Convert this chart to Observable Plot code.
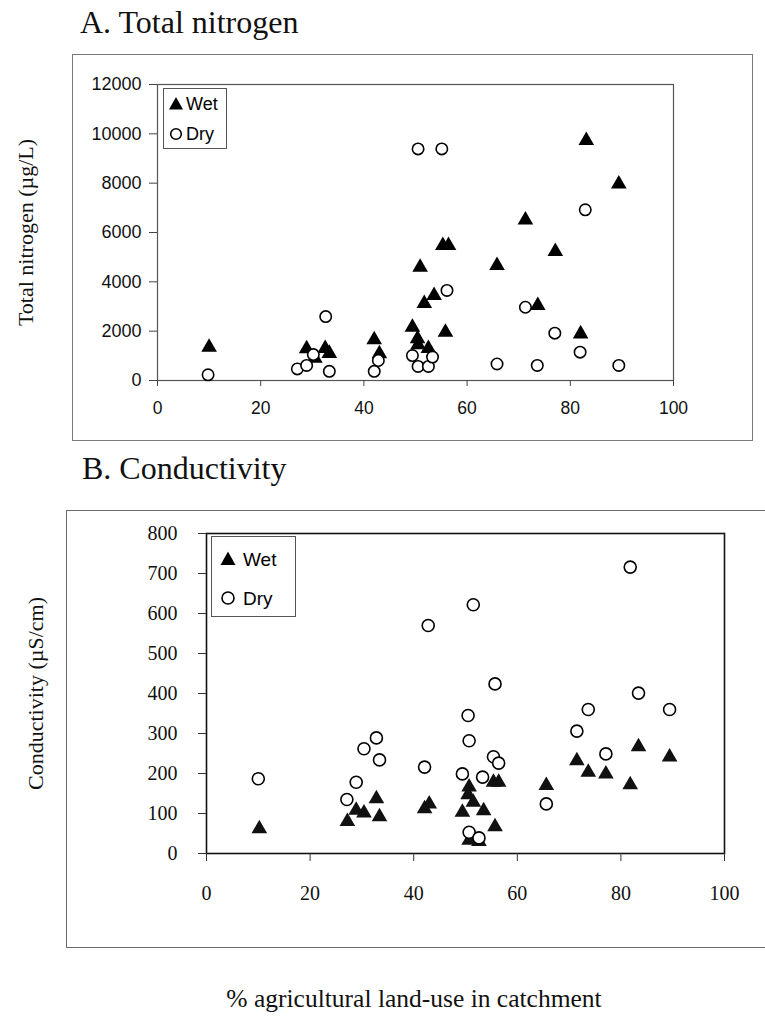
<!DOCTYPE html>
<html><head><meta charset="utf-8">
<script src="https://cdn.jsdelivr.net/npm/d3@7"></script>
<script src="https://cdn.jsdelivr.net/npm/@observablehq/plot@0.6"></script>
<style>
body{margin:0;background:#fff;}
#page{position:relative;width:765px;height:1019px;overflow:hidden;background:#fff;}
.serif{font-family:"Liberation Serif","Times New Roman",serif;color:#111;white-space:nowrap;position:absolute;}
.frame{position:absolute;box-sizing:border-box;}
</style></head><body>
<div id="page">
  <div class="serif" style="left:80px;top:6px;font-size:32px;line-height:32px;">A. Total nitrogen</div>
  <div class="frame" style="left:72px;top:54px;width:681px;height:387px;border:1.3px solid #7a7a7a;"></div>
  <div class="serif" style="left:82px;top:452px;font-size:32px;line-height:32px;">B. Conductivity</div>
  <div class="frame" style="left:66px;top:510px;width:710px;height:438px;border:1.3px solid #6a6a6a;"></div>
  <div class="serif" style="left:114px;top:986px;width:600px;text-align:center;font-size:25.5px;line-height:25px;">% agricultural land-use in catchment</div>
</div>
<script>
// ---- data ----
const xTicks = [0, 20, 40, 60, 80, 100];
const nitrogenTicks = [0, 2000, 4000, 6000, 8000, 10000, 12000];
const condTicks = [0, 100, 200, 300, 400, 500, 600, 700, 800];
const seasons = ["Wet", "Dry"];

const nitrogenWetX = [10.0, 28.9, 30.5, 32.5, 33.3, 42.0, 43.0, 49.4, 50.4, 50.5, 50.9, 51.7, 52.5, 53.6, 55.3, 56.4, 55.8, 65.8, 71.3, 73.7, 77.1, 82.0, 83.1, 89.4];
const nitrogenWetY = [1350, 1290, 900, 1300, 1100, 1650, 1080, 2160, 1690, 1450, 4590, 3120, 1300, 3450, 5470, 5470, 1960, 4660, 6510, 3040, 5230, 1890, 9730, 7970];
const nitrogenDryX = [9.8, 27.1, 28.9, 30.2, 32.6, 33.3, 42.0, 42.8, 49.4, 50.5, 50.5, 52.5, 53.3, 55.1, 56.1, 65.8, 71.3, 73.6, 77.0, 81.9, 82.9, 89.4];
const nitrogenDryY = [230, 470, 610, 1050, 2590, 370, 370, 810, 1010, 9390, 570, 570, 950, 9390, 3650, 670, 2970, 610, 1920, 1150, 6920, 610];

const condWetX = [10.2, 27.2, 28.9, 30.4, 32.8, 33.4, 42.1, 43.0, 49.4, 50.7, 50.5, 51.5, 53.5, 55.7, 55.4, 56.4, 50.7, 52.6, 65.6, 71.5, 73.7, 77.1, 81.8, 83.4, 89.4];
const condWetY = [62, 80, 108, 101, 137, 92, 112, 124, 103, 166, 147, 128, 107, 67, 178, 178, 33, 30, 170, 232, 203, 199, 172, 267, 241];
const condDryX = [10.0, 27.1, 28.9, 30.4, 32.8, 33.4, 42.1, 42.8, 49.4, 50.5, 50.7, 51.5, 53.3, 55.4, 56.4, 55.7, 50.7, 52.6, 65.6, 71.5, 73.7, 77.1, 81.8, 83.4, 89.4];
const condDryY = [187, 135, 178, 262, 289, 234, 216, 570, 199, 345, 282, 622, 191, 242, 226, 424, 53, 39, 124, 306, 360, 249, 716, 401, 360];

const toRows = (xs, ys) => xs.map((x, i) => ({x, y: ys[i]}));
const SANS = "'Liberation Sans', Arial, sans-serif";
const SERIF = "'Liberation Serif', 'Times New Roman', serif";
const page = document.getElementById("page");

function place(el, left, top) {
  el.style.position = "absolute";
  el.style.left = left + "px";
  el.style.top = top + "px";
  page.appendChild(el);
}

// ---- Panel A ----
const plotA = Plot.plot({
  width: 765, height: 440,
  marginLeft: 157, marginRight: 92, marginTop: 84, marginBottom: 60,
  style: {background: "none", fontFamily: SANS, color: "#111", overflow: "visible"},
  x: {domain: [0, 100]},
  y: {domain: [0, 12000]},
  marks: [
    Plot.frame({stroke: "#555", strokeWidth: 1.2}),
    Plot.axisX({ticks: xTicks, tickSize: 6, tickPadding: 15, fontSize: 17.5, fontFamily: SANS, tickFormat: d => String(d), label: null, stroke: "#444"}),
    Plot.axisY({ticks: nitrogenTicks, tickSize: 8, tickPadding: 8, fontSize: 18, fontFamily: SANS, tickFormat: d => String(d), label: null, stroke: "#444"}),
    Plot.dot(toRows(nitrogenWetX, nitrogenWetY), {x: "x", y: "y", symbol: "triangle", r: 5.8, fill: "#000", stroke: "none"}),
    Plot.dot(toRows(nitrogenDryX, nitrogenDryY), {x: "x", y: "y", symbol: "circle", r: 5.7, fill: "white", stroke: "#000", strokeWidth: 1.6}),
    Plot.text(["Total nitrogen (µg/L)"], {frameAnchor: "left", textAnchor: "middle", rotate: -90, dx: -132, fontSize: 22, fontFamily: SERIF, fill: "#111"})
  ]
});
place(plotA, 0, 0);

// ---- Panel B ----
const plotB = Plot.plot({
  width: 765, height: 420,
  marginLeft: 206, marginRight: 41, marginTop: 33, marginBottom: 67,
  style: {background: "none", fontFamily: SERIF, color: "#111", overflow: "visible"},
  x: {domain: [0, 100]},
  y: {domain: [0, 800]},
  marks: [
    Plot.frame({stroke: "#111", strokeWidth: 1.6}),
    Plot.axisX({ticks: xTicks, tickSize: 8, tickPadding: 24, fontSize: 20, fontFamily: SERIF, tickFormat: d => String(d), label: null, stroke: "#333"}),
    Plot.axisY({ticks: condTicks, tickSize: 8, tickPadding: 21, fontSize: 20, fontFamily: SERIF, tickFormat: d => String(d), label: null, stroke: "#333"}),
    Plot.dot(toRows(condWetX, condWetY), {x: "x", y: "y", symbol: "triangle", r: 5.8, fill: "#111", stroke: "none"}),
    Plot.dot(toRows(condDryX, condDryY), {x: "x", y: "y", symbol: "circle", r: 6, fill: "white", stroke: "#000", strokeWidth: 1.6}),
    Plot.text(["Conductivity (µS/cm)"], {frameAnchor: "left", textAnchor: "middle", rotate: -90, dx: -171, fontSize: 22, fontFamily: SERIF, fill: "#111"})
  ]
});
place(plotB, 0, 500);

// ---- legends ----
function legend(left, top, w, h, symX, rowY, textX, fontSize, triHalf, circR) {
  const ns = "http://www.w3.org/2000/svg";
  const svg = document.createElementNS(ns, "svg");
  svg.setAttribute("width", w); svg.setAttribute("height", h);
  const rect = document.createElementNS(ns, "rect");
  rect.setAttribute("x", 0.5); rect.setAttribute("y", 0.5);
  rect.setAttribute("width", w - 1); rect.setAttribute("height", h - 1);
  rect.setAttribute("fill", "white"); rect.setAttribute("stroke", "#555");
  svg.appendChild(rect);
  const tri = document.createElementNS(ns, "path");
  const ty = rowY[0];
  tri.setAttribute("d", `M${symX},${ty - triHalf}L${symX + triHalf},${ty + triHalf * 0.8}L${symX - triHalf},${ty + triHalf * 0.8}Z`);
  tri.setAttribute("fill", "#000");
  svg.appendChild(tri);
  const c = document.createElementNS(ns, "circle");
  c.setAttribute("cx", symX); c.setAttribute("cy", rowY[1]); c.setAttribute("r", circR);
  c.setAttribute("fill", "white"); c.setAttribute("stroke", "#000"); c.setAttribute("stroke-width", 1.6);
  svg.appendChild(c);
  seasons.forEach((s, i) => {
    const t = document.createElementNS(ns, "text");
    t.setAttribute("x", textX); t.setAttribute("y", rowY[i]);
    t.setAttribute("dy", "0.36em");
    t.setAttribute("font-family", SANS); t.setAttribute("font-size", fontSize);
    t.setAttribute("fill", "#000");
    t.textContent = s;
    svg.appendChild(t);
  });
  place(svg, left, top);
}
legend(163, 88, 64, 61, 13, [16, 46], 23, 18, 7, 5.3);
legend(211, 536, 85, 81, 17, [23, 62], 32, 19, 7.5, 6);
</script>
</body></html>
